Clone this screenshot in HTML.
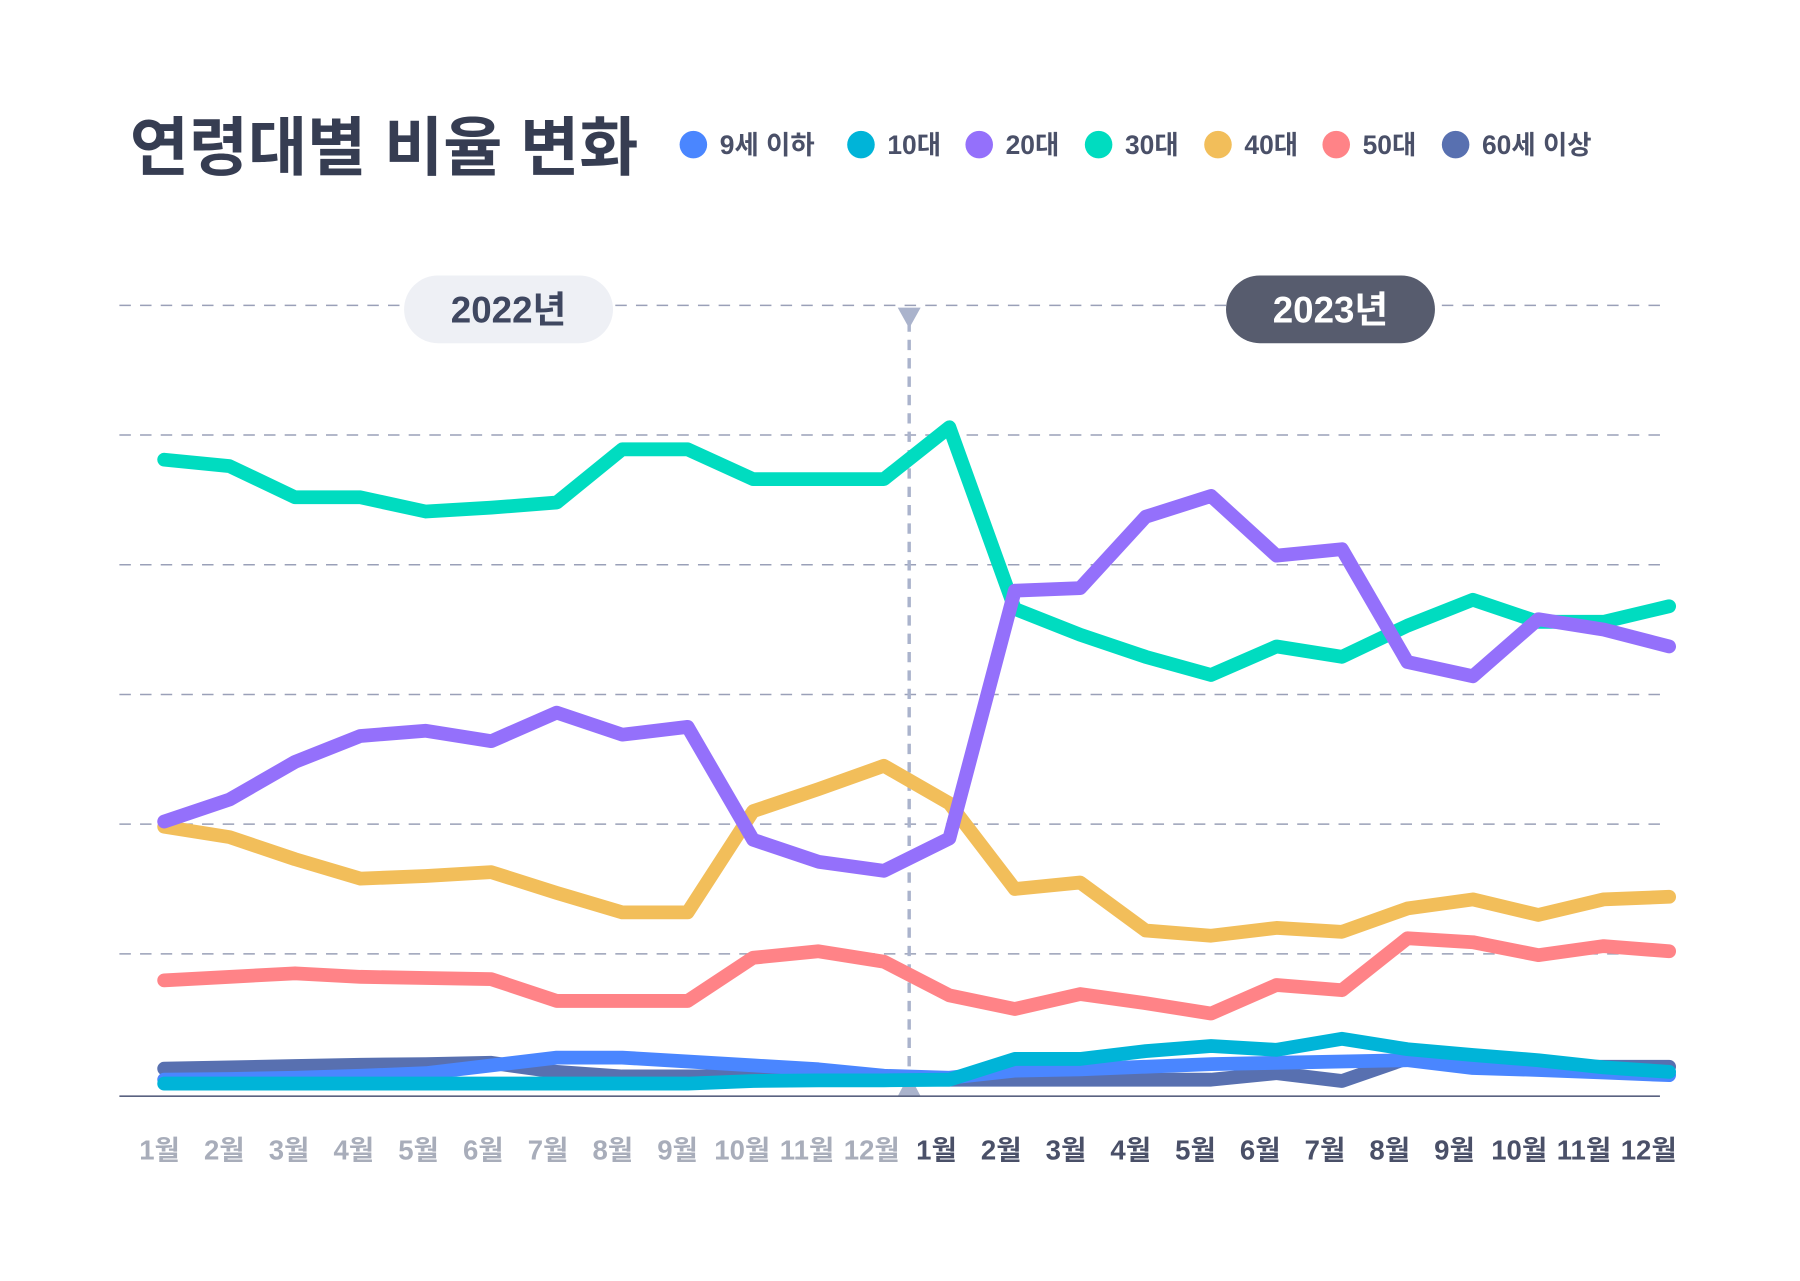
<!DOCTYPE html>
<html><head><meta charset="utf-8"><style>
html,body{margin:0;padding:0;background:#fff;}
svg{display:block;font-family:"Liberation Sans","Noto Sans CJK KR",sans-serif;}
</style></head><body>
<svg id="chart" width="1800" height="1281" viewBox="0 0 1568 1116" preserveAspectRatio="none" xmlns="http://www.w3.org/2000/svg">
<text x="113" y="148" font-size="56" font-weight="bold" fill="#363d52">연령대별 비율 변화</text>
<g id="legend"></g>
<g id="grid"></g>
<line x1="792" y1="280" x2="792" y2="945" stroke="#aab3cc" stroke-width="3" stroke-dasharray="9,7"/>
<polygon points="782,268 802,268 792,286" fill="#aab3cc"/>
<polygon points="782,955 802,955 792,936" fill="#aab3cc"/>
<g><rect x="352" y="240" width="182" height="59" rx="29.5" fill="#eef0f5"/><text x="443" y="281" text-anchor="middle" font-size="32" font-weight="bold" fill="#3f4760">2022년</text></g>
<g><rect x="1068" y="240" width="182" height="59" rx="29.5" fill="#575c6e"/><text x="1159" y="281" text-anchor="middle" font-size="32" font-weight="bold" fill="#fff">2023년</text></g>
<g id="lines"></g>
<line x1="104" y1="955" x2="1446" y2="955" stroke="#5a6280" stroke-width="1.5"/>
<g id="xlabels"></g>
</svg>
<script>
const months = ["1월","2월","3월","4월","5월","6월","7월","8월","9월","10월","11월","12월","1월","2월","3월","4월","5월","6월","7월","8월","9월","10월","11월","12월"];
const seriesNames = ["9세 이하","10대","20대","30대","40대","50대","60세 이상"];
const gridTicks = [10,20,30,40,50,60];
const v9 = [0.3,0.35,0.45,0.6,0.8,1.4,2.0,2.0,1.7,1.4,1.1,0.6,0.45,1.0,1.1,1.3,1.5,1.6,1.7,1.8,1.2,1.05,0.85,0.65];
const v10 = [0,0,0,0,0,0,0,0,0,0.2,0.25,0.25,0.3,1.9,1.9,2.5,2.9,2.6,3.45,2.65,2.2,1.8,1.25,0.9];
const v20 = [20.2,21.9,24.8,26.8,27.2,26.4,28.6,26.9,27.5,18.8,17.1,16.4,18.9,38.0,38.2,43.7,45.3,40.7,41.2,32.5,31.4,35.8,35.0,33.7];
const v30 = [48.1,47.6,45.2,45.2,44.1,44.4,44.8,48.9,48.9,46.6,46.6,46.6,50.6,36.6,34.6,32.9,31.5,33.7,32.9,35.3,37.3,35.6,35.6,36.8];
const v40 = [19.8,19.0,17.3,15.8,16.0,16.3,14.7,13.2,13.2,21.0,22.7,24.5,21.6,15.0,15.5,11.8,11.4,12.0,11.7,13.5,14.2,13.0,14.2,14.4];
const v50 = [7.96,8.23,8.5,8.23,8.14,8.05,6.37,6.37,6.37,9.7,10.2,9.4,6.8,5.75,6.9,6.2,5.4,7.6,7.2,11.2,10.9,9.9,10.6,10.2];
const v60 = [1.15,1.25,1.35,1.45,1.5,1.6,0.9,0.55,0.55,0.55,0.45,0.35,0.3,0.3,0.3,0.3,0.3,0.8,0.2,1.95,1.6,1.3,1.3,1.3];

const NS="http://www.w3.org/2000/svg";
const colors=["#4a86ff","#00b4d8","#9470fb","#00dcc0","#f2be5a","#ff8387","#5870b0"];
const xs=i=>143+i*57;
const ys=v=>944-v*11.3;
function mk(t){return document.createElementNS(NS,t);}

const grid=document.getElementById('grid');
gridTicks.forEach(t=>{
  const l=mk('line');
  
  
  l.setAttribute('x1',104);l.setAttribute('x2',1446);
  l.setAttribute('y1',ys(t));l.setAttribute('y2',ys(t));
  l.setAttribute('stroke','#9aa0b8');l.setAttribute('stroke-width','1.3');l.setAttribute('stroke-dasharray','10,8');
  grid.appendChild(l);
});

const legend=document.getElementById('legend');
const lx=[604,750,853,957,1061,1164,1268];
seriesNames.forEach((n,i)=>{
  const g=mk('g');
  
  
  const c=mk('circle');c.setAttribute('cx',lx[i]);c.setAttribute('cy',126);c.setAttribute('r',12);c.setAttribute('fill',colors[i]);
  const t=mk('text');t.setAttribute('x',lx[i]+23);t.setAttribute('y',134);t.setAttribute('font-size',23);t.setAttribute('font-weight','bold');t.setAttribute('fill','#4a5068');t.textContent=n;
  g.appendChild(c);g.appendChild(t);legend.appendChild(g);
});

const lines=document.getElementById('lines');
const order=[[5,v50,'line-50s'],[4,v40,'line-40s'],[3,v30,'line-30s'],[2,v20,'line-20s'],[6,v60,'line-60-plus'],[0,v9,'line-under-9'],[1,v10,'line-10s']];
order.forEach(([ci,arr,name])=>{
  const p=mk('polyline');
  
  
  p.setAttribute('points',arr.map((v,i)=>xs(i)+','+ys(v)).join(' '));
  p.setAttribute('fill','none');p.setAttribute('stroke',colors[ci]);p.setAttribute('stroke-width','12');
  p.setAttribute('stroke-linejoin','round');p.setAttribute('stroke-linecap','round');
  lines.appendChild(p);
});

const xl=document.getElementById('xlabels');
months.forEach((m,i)=>{
  const t=mk('text');
  
  
  t.setAttribute('x',xs(i)-4-0.6*i);t.setAttribute('y',1010);
  t.setAttribute('text-anchor','middle');t.setAttribute('font-size',24);t.setAttribute('font-weight','bold');
  t.setAttribute('fill',i<12?'#a8adba':'#4a5068');
  t.textContent=m;xl.appendChild(t);
});
</script>
</body></html>
